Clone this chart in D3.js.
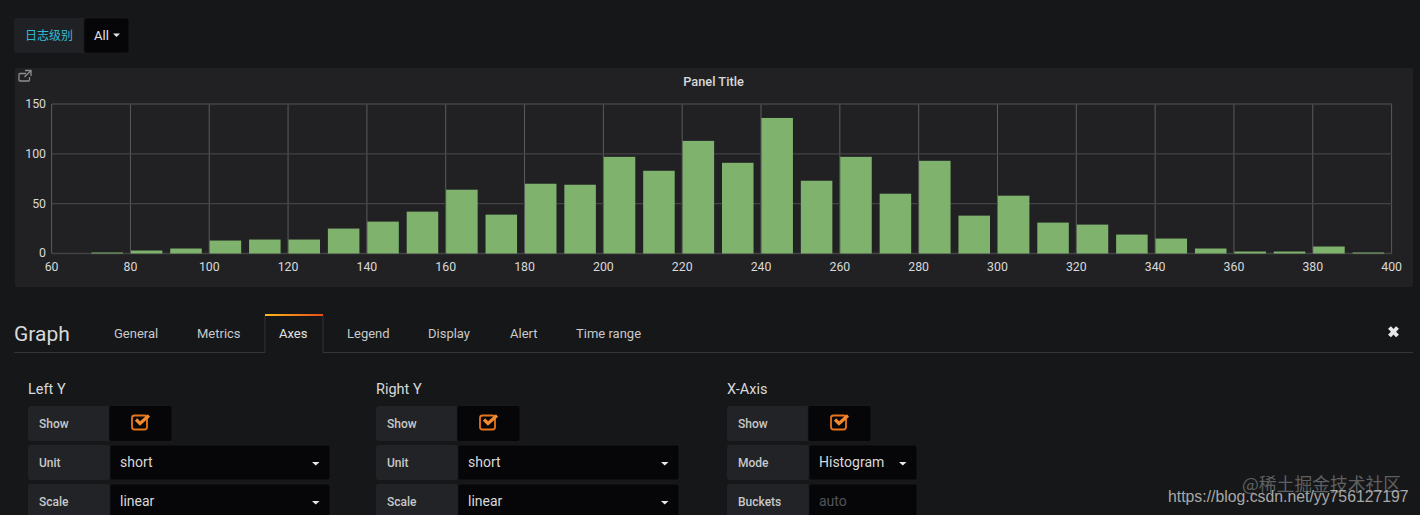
<!DOCTYPE html>
<html>
<head>
<meta charset="utf-8">
<script src="https://cdn.jsdelivr.net/npm/d3@7"></script>
<style>
  html, body { margin: 0; padding: 0; background: #161719; overflow: hidden; }
  svg { display: block; font-family: Roboto, "Noto Sans CJK SC", sans-serif; }
</style>
</head>
<body>
<svg id="myGraph" width="1420" height="515"></svg>
<script>
// bucket start values and counts
const buckets = [70, 80, 90, 100, 110, 120, 130, 140, 150, 160, 170, 180, 190, 200, 210, 220,
                 230, 240, 250, 260, 270, 280, 290, 300, 310, 320, 330, 340, 350, 360, 370, 380, 390];
const counts = [1, 3, 5, 13, 14, 14, 25, 32, 42, 64, 39, 70, 69, 97, 83, 113,
                91, 136, 73, 97, 60, 93, 38, 58, 31, 29, 19, 15, 5, 2, 2, 7, 1];
const xTicks = [60, 80, 100, 120, 140, 160, 180, 200, 220, 240, 260, 280, 300, 320, 340, 360, 380, 400];
const yTicks = [0, 50, 100, 150];

const tabNames = ["General", "Metrics", "Axes", "Legend", "Display", "Alert", "Time range"];
const tabLefts = [114, 197, 279, 347, 428, 510, 576];

const svg = d3.select("#myGraph");

const defs = svg.append("defs");
const tabGrad = defs.append("linearGradient").attr("id", "tabGrad");
tabGrad.append("stop").attr("offset", "0%").attr("stop-color", "#ffb81c");
tabGrad.append("stop").attr("offset", "100%").attr("stop-color", "#eb4d1c");

svg.append("rect").attr("width", 1420).attr("height", 515).attr("fill", "#161719");

// variable picker
svg.append("rect").attr("x", 14).attr("y", 18).attr("width", 115).attr("height", 35).attr("rx", 3).attr("fill", "#1f2124");
svg.append("rect").attr("x", 84).attr("y", 18).attr("width", 45).attr("height", 35).attr("rx", 2)
    .attr("fill", "#060608").attr("stroke", "#1c1d20").attr("stroke-width", 0.8);
svg.append("text").attr("x", 25).attr("y", 39.5).attr("font-size", 12).attr("fill", "#33bcd6")
    .attr("font-family", "'Noto Sans CJK SC'").text("日志级别");
svg.append("text").attr("x", 94).attr("y", 39.5).attr("font-size", 13).attr("fill", "#e3e3e3").text("All");
svg.append("path").attr("d", "M113 33.5h7l-3.5 3.5z").attr("fill", "#e8e8e8");

// panel
svg.append("rect").attr("x", 15).attr("y", 68).attr("width", 1398).attr("height", 219).attr("rx", 2).attr("fill", "#212124");
svg.append("text").attr("x", 713.5).attr("y", 86).attr("text-anchor", "middle")
    .attr("font-size", 12.8).attr("font-weight", 500).attr("fill", "#d8d9da").text("Panel Title");
svg.append("path")
    .attr("d", "M26 73.5h-6a1 1 0 0 0-1 1v5.5a1 1 0 0 0 1 1h8.5a1 1 0 0 0 1-1v-3M25 70.5h6v5.5M31 70.5l-6.5 6.5")
    .attr("fill", "none").attr("stroke", "#8e8e8e").attr("stroke-width", 1.3);

// graph
const x = d3.scaleLinear().domain([60, 400]).range([52, 1392]);
const y = d3.scaleLinear().domain([0, 150]).range([253.5, 104]);

const grid = svg.append("g");
const xAxis = grid.append("g")
    .attr("transform", "translate(-0.4,253.5)")
    .call(d3.axisBottom(x).offset(0).tickValues(xTicks).tickSize(-149.5).tickPadding(9).tickFormat(d3.format("d")));
const yAxis = grid.append("g")
    .attr("transform", "translate(52,0)")
    .call(d3.axisLeft(y).offset(0).tickValues(yTicks).tickSize(-1340).tickPadding(6));

xAxis.select(".domain").remove();
yAxis.select(".domain").remove();
xAxis.selectAll("line").attr("stroke", "#626264").attr("stroke-width", 0.9);
yAxis.selectAll("line").attr("stroke", "#434345").attr("stroke-width", 1.3);
grid.selectAll("text").attr("fill", "#d8d9da").attr("font-size", 12.3).attr("font-family", "Roboto");

svg.append("g").selectAll("rect")
    .data(buckets)
    .enter()
    .append("rect")
    .attr("x", d => x(d))
    .attr("width", d => x(d + 8) - x(d))
    .attr("y", (d, i) => y(counts[i]))
    .attr("height", (d, i) => y(0) - y(counts[i]))
    .attr("fill", "#7eb26d");

// editor header
svg.append("text").attr("x", 14).attr("y", 341).attr("font-size", 21).attr("fill", "#d8d9da").text("Graph");
svg.append("path").attr("d", "M14 352.5H265V315.5H323V352.5H1413").attr("fill", "none").attr("stroke", "#333538");
svg.append("rect").attr("x", 265).attr("y", 314).attr("width", 58).attr("height", 2).attr("fill", "url(#tabGrad)");
svg.selectAll(".tab")
    .data(tabNames)
    .enter()
    .append("text")
    .attr("class", "tab")
    .attr("x", (d, i) => tabLefts[i])
    .attr("y", 338)
    .attr("font-size", 13)
    .attr("fill", (d, i) => i == 2 ? "#e3e3e3" : "#c8c9ca")
    .text(d => d);
svg.append("path").attr("d", "M1389.5 327.5l8 8.5M1397.5 327.5l-8 8.5").attr("stroke", "#e8e8e8").attr("stroke-width", 4);

// axes form
function checkbox(cx) {
    svg.append("rect").attr("x", cx - 8).attr("y", 415.5).attr("width", 15).attr("height", 14).attr("rx", 2.5)
        .attr("fill", "none").attr("stroke", "#e8741a").attr("stroke-width", 1.8);
    svg.append("path").attr("d", `M${cx - 4} 419.5l4 4l9 -8`)
        .attr("fill", "none").attr("stroke", "#f08a30").attr("stroke-width", 3.2);
}

function formColumn(left, title, labelW, showW, valueW, rows) {
    svg.append("text").attr("x", left).attr("y", 394).attr("font-size", 14.5).attr("fill", "#d8d9da").text(title);

    svg.append("rect").attr("x", left).attr("y", 406).attr("width", labelW + showW).attr("height", 35).attr("rx", 3).attr("fill", "#212326");
    svg.append("rect").attr("x", left + labelW).attr("y", 405.5).attr("width", showW).attr("height", 36).attr("rx", 2)
        .attr("fill", "#060608").attr("stroke", "#1c1d20").attr("stroke-width", 0.8);
    svg.append("text").attr("x", left + 11).attr("y", 428).attr("font-size", 12).attr("font-weight", 500).attr("fill", "#c8c9ca").text("Show");
    checkbox(left + labelW + 31);

    rows.forEach((r, i) => {
        const top = 445 + i * 39;
        svg.append("rect").attr("x", left).attr("y", top).attr("width", labelW + 1).attr("height", 35).attr("rx", 3).attr("fill", "#212326");
        svg.append("rect").attr("x", left + labelW + 1).attr("y", top).attr("width", valueW).attr("height", 35).attr("rx", 2)
            .attr("fill", "#060608").attr("stroke", "#1c1d20").attr("stroke-width", 0.8);
        svg.append("text").attr("x", left + 11).attr("y", top + 22).attr("font-size", 12).attr("font-weight", 500).attr("fill", "#c8c9ca").text(r[0]);
        svg.append("text").attr("x", left + labelW + 11).attr("y", top + 22).attr("font-size", 14)
            .attr("fill", r[2] ? "#52545c" : "#d8d9da").text(r[1]);
        if (!r[2]) {
            const ax = left + labelW + valueW - 13;
            svg.append("path").attr("d", `M${ax - 4} ${top + 17}h7.5l-3.75 3.5z`).attr("fill", "#e8e8e8");
        }
    });
}

formColumn(28, "Left Y", 81, 63, 220, [["Unit", "short"], ["Scale", "linear"]]);
formColumn(376, "Right Y", 81, 63, 221, [["Unit", "short"], ["Scale", "linear"]]);
formColumn(727, "X-Axis", 81, 63, 108, [["Mode", "Histogram"], ["Buckets", "auto", true]]);

// watermarks
svg.append("text").attr("x", 1242).attr("y", 491).attr("font-size", 17.8).attr("fill", "#5f6062")
    .attr("font-family", "'Noto Sans CJK SC'").text("@稀土掘金技术社区");
svg.append("text").attr("x", 1168).attr("y", 501.5).attr("font-size", 15.8).attr("fill", "#a8a8a8")
    .attr("font-family", "'Liberation Sans'").text("https://blog.csdn.net/yy756127197");
</script>
</body>
</html>
